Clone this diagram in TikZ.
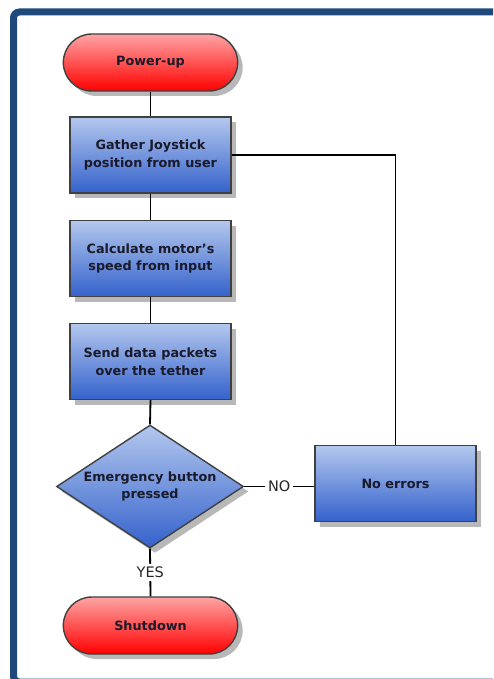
\documentclass[tikz,border=0pt]{standalone}
\usepackage{fontspec}
\setmainfont{DejaVu Sans}
\usetikzlibrary{shapes.geometric,shapes.misc,shadows}
\definecolor{frameblue}{HTML}{1F497D}
\definecolor{boxtop}{HTML}{B4C8EE}
\definecolor{boxbot}{HTML}{3462CC}
\definecolor{redtop}{HTML}{FFA4A4}
\definecolor{redbot}{HTML}{FF0000}
\definecolor{txt}{HTML}{1A1A2A}
\tikzset{
  base/.style={draw=black!75, line width=1.4pt, font=\bfseries\fontsize{12.8}{17.5}\selectfont, text=txt, align=center,
    drop shadow={shadow xshift=5pt, shadow yshift=-5pt, fill=black!28, opacity=1}},
  procbox/.style={base, rectangle, minimum width=161pt, minimum height=76pt, top color=boxtop, bottom color=boxbot},
  termbox/.style={base, rounded rectangle, minimum width=181pt, minimum height=57pt, top color=redtop, bottom color=redbot},
  decbox/.style={base, diamond, aspect=1.52, minimum width=187pt, minimum height=123pt, inner sep=0pt, top color=boxtop, bottom color=boxbot},
  conn/.style={line width=1.8pt, black},
  lbl/.style={font=\fontsize{14.5}{16}\selectfont, fill=white, inner sep=3pt, text=black!85}
}
\begin{document}
\begin{tikzpicture}[x=1pt,y=-1pt]
\useasboundingbox (0,0) rectangle (493,679);
\begin{scope}
\clip (0,0) rectangle (493,679);
\draw[frameblue, line width=7pt, rounded corners=6pt] (13.5,12) rectangle (560,682);
\end{scope}
\node[termbox] (power) at (150.5,62.5) {Power-up};
\node[procbox] (gather) at (150.5,155) {Gather Joystick\\position from user};
\node[procbox] (calc) at (150.5,258.5) {Calculate motor's\\speed from input};
\node[procbox] (send) at (150.5,361.5) {Send data packets\\over the tether};
\node[decbox] (emerg) at (150,486.5) {Emergency button\\pressed};
\node[procbox] (noerr) at (395.5,483.5) {No errors};
\node[termbox] (shut) at (150.5,625.5) {Shutdown};
\coordinate (corner) at (noerr.north |- gather.east);
\draw[conn] (power.south) -- (gather.north);
\draw[conn] (gather.south) -- (calc.north);
\draw[conn] (calc.south) -- (send.north);
\draw[conn] (send.south) -- (emerg.north);
\draw[conn] (gather.east) -- (corner) -- (noerr.north);
\draw[conn] (emerg.east) -- node[lbl] {NO} (emerg.east -| noerr.west);
\draw[conn] (emerg.south) -- node[lbl] {YES} (shut.north);
\end{tikzpicture}
\end{document}
